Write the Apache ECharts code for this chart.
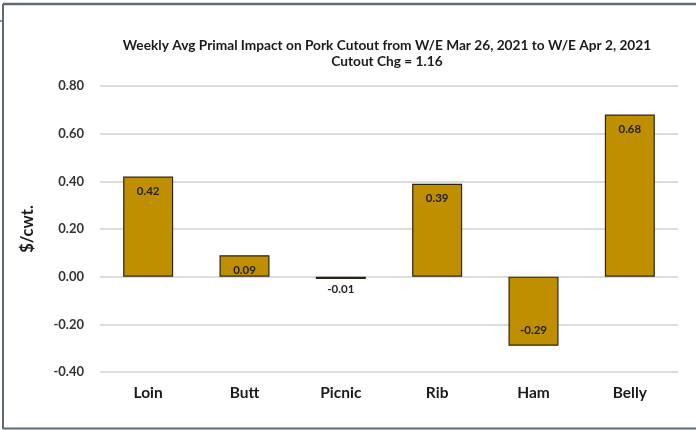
<!DOCTYPE html>
<html>
<head>
<meta charset="utf-8">
<script src="https://cdn.jsdelivr.net/npm/echarts@6/dist/echarts.min.js"></script>
<style>
  html, body { margin: 0; padding: 0; background: #fff; }
  #chart { width: 696px; height: 430px; }
</style>
</head>
<body>
<div id="chart"></div>
<script>
// Primal cuts and their weekly impact on the pork cutout ($/cwt.)
const primals = ['Loin', 'Butt', 'Picnic', 'Rib', 'Ham', 'Belly'];
const impact = [0.42, 0.09, -0.01, 0.39, -0.29, 0.68];
const yTicks = [-0.40, -0.20, 0.00, 0.20, 0.40, 0.60, 0.80];

const titleLine1 = 'Weekly Avg Primal Impact on Pork Cutout from W/E Mar 26, 2021 to W/E Apr 2, 2021';
const titleLine2 = 'Cutout Chg = 1.16';

const FONT = 'Lato, "Open Sans", sans-serif';

// label placement: inside the top for positive bars, inside the bottom for
// larger negative bars, below the bar when it is too thin to hold text
function labelPosFor(v) {
  if (v >= 0) return { position: 'insideTop', distance: 9 };
  if (v > -0.05) return { position: 'bottom', distance: 4 };
  return { position: 'insideBottom', distance: 9 };
}

const barData = impact.map(v => ({ value: v, label: labelPosFor(v) }));

const chart = echarts.init(document.getElementById('chart'), null, { renderer: 'canvas' });
chart.setOption({
  animation: false,
  backgroundColor: '#ffffff',
  title: {
    text: titleLine1 + '\n' + titleLine2,
    left: 382,
    top: 32,
    textAlign: 'center',
    textStyle: {
      fontFamily: FONT,
      fontSize: 13.7,
      fontWeight: 'bold',
      color: '#1a1a1a',
      lineHeight: 16.5
    }
  },
  grid: { left: 100, right: 18, top: 86, bottom: 58 },
  xAxis: {
    type: 'category',
    data: primals,
    axisLine: { show: false },
    axisTick: { show: false },
    axisLabel: {
      fontFamily: FONT,
      fontSize: 15.5,
      fontWeight: 'bold',
      color: '#1a1a1a',
      margin: 13
    }
  },
  yAxis: {
    type: 'value',
    min: yTicks[0],
    max: yTicks[yTicks.length - 1],
    interval: 0.2,
    name: '$/cwt.',
    nameLocation: 'middle',
    nameGap: 64,
    nameRotate: 90,
    nameTextStyle: {
      fontFamily: FONT,
      fontSize: 16.5,
      fontWeight: 'bold',
      color: '#1a1a1a'
    },
    axisLine: { show: false },
    axisTick: { show: false },
    splitLine: { lineStyle: { color: '#d0d0d0', width: 1.5 } },
    axisLabel: {
      fontFamily: FONT,
      fontSize: 13,
      fontWeight: 'bold',
      color: '#333333',
      margin: 16,
      formatter: v => v.toFixed(2)
    }
  },
  series: [{
    type: 'bar',
    data: barData,
    barWidth: 50,
    itemStyle: {
      color: '#BF8F00',
      borderColor: '#2b2412',
      borderWidth: 1.2
    },
    label: {
      show: true,
      fontFamily: FONT,
      fontSize: 11.5,
      fontWeight: 'bold',
      color: '#222222',
      formatter: p => p.value.toFixed(2)
    }
  }],
  graphic: [
    // outer frame of the slide panel
    { type: 'line', silent: true, shape: { x1: 3, y1: 4, x2: 696, y2: 4 }, style: { stroke: '#5f6a74', lineWidth: 2.5 } },
    { type: 'line', silent: true, shape: { x1: 3, y1: 4, x2: 3, y2: 429 }, style: { stroke: '#5f6a74', lineWidth: 2 } },
    { type: 'line', silent: true, shape: { x1: 0, y1: 21, x2: 3, y2: 21 }, style: { stroke: '#5f6a74', lineWidth: 1.5 } },
    { type: 'line', silent: true, shape: { x1: 3, y1: 428.5, x2: 696, y2: 428.5 }, style: { stroke: '#5f6a74', lineWidth: 2 } }
  ]
});
</script>
</body>
</html>
